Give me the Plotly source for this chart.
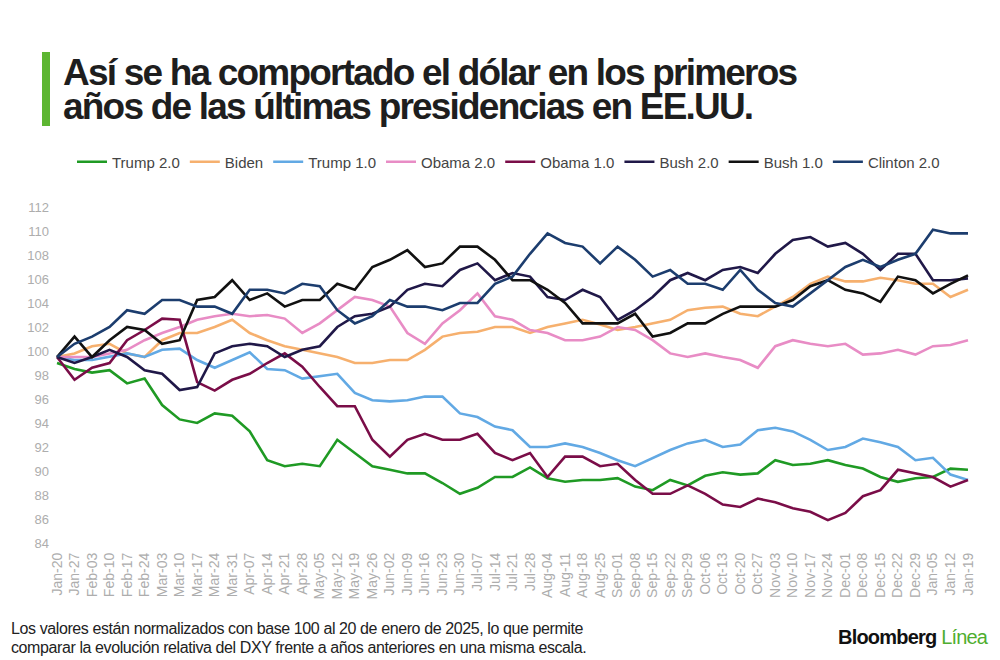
import plotly.graph_objects as go

# weekly ticks, Jan-20 -> Jan-19 of the following year
weeks = [
    "Jan-20", "Jan-27", "Feb-03", "Feb-10", "Feb-17", "Feb-24", "Mar-03", "Mar-10",
    "Mar-17", "Mar-24", "Mar-31", "Apr-07", "Apr-14", "Apr-21", "Apr-28", "May-05",
    "May-12", "May-19", "May-26", "Jun-02", "Jun-09", "Jun-16", "Jun-23", "Jun-30",
    "Jul-07", "Jul-14", "Jul-21", "Jul-28", "Aug-04", "Aug-11", "Aug-18", "Aug-25",
    "Sep-01", "Sep-08", "Sep-15", "Sep-22", "Sep-29", "Oct-06", "Oct-13", "Oct-20",
    "Oct-27", "Nov-03", "Nov-10", "Nov-17", "Nov-24", "Dec-01", "Dec-08", "Dec-15",
    "Dec-22", "Dec-29", "Jan-05", "Jan-12", "Jan-19",
]

trump2 = [99.0, 98.5, 98.2, 98.4, 97.3, 97.7, 95.5, 94.3, 94.0, 94.8, 94.6, 93.3, 90.9,
          90.4, 90.6, 90.4, 92.6, 91.5, 90.4, 90.1, 89.8, 89.8, 89.0, 88.1, 88.6, 89.5,
          89.5, 90.3, 89.4, 89.1, 89.25, 89.25, 89.4, 88.7, 88.4, 89.25, 88.8, 89.6, 89.9,
          89.7, 89.8, 90.9, 90.5, 90.6, 90.9, 90.5, 90.2, 89.5, 89.1, 89.4, 89.5, 90.2, 90.1]
biden = [99.5, 99.8, 100.4, 100.6, 99.8, 99.5, 100.9, 101.5, 101.5, 102.0, 102.6, 101.5, 100.9,
         100.4, 100.1, 99.8, 99.5, 99.0, 99.0, 99.25, 99.25, 100.1, 101.2, 101.5, 101.6, 102.0,
         102.0, 101.5, 102.0, 102.3, 102.6, 102.2, 101.75, 102.0, 102.3, 102.6, 103.4, 103.6, 103.7,
         103.1, 102.9, 103.7, 104.5, 105.6, 106.2, 105.8, 105.8, 106.1, 105.9, 105.6, 105.6, 104.5, 105.1]
trump1 = [99.5, 99.25, 99.25, 99.5, 99.8, 99.5, 100.1, 100.2, 99.25, 98.6, 99.25, 99.9, 98.5,
          98.4, 97.7, 97.9, 98.1, 96.5, 95.9, 95.8, 95.9, 96.2, 96.2, 94.8, 94.5, 93.7,
          93.4, 92.0, 92.0, 92.3, 92.0, 91.5, 90.9, 90.4, 91.1, 91.75, 92.3, 92.6, 92.0,
          92.2, 93.4, 93.6, 93.3, 92.6, 91.75, 92.0, 92.7, 92.4, 92.0, 90.9, 91.1, 89.7, 89.25]
obama2 = [99.5, 99.5, 99.5, 99.8, 100.1, 100.9, 101.5, 102.0, 102.6, 102.9, 103.1, 102.9, 103.0,
          102.7, 101.5, 102.3, 103.4, 104.5, 104.25, 103.7, 101.5, 100.6, 102.3, 103.4, 104.8, 102.9,
          102.6, 101.75, 101.5, 100.9, 100.9, 101.2, 102.0, 101.75, 100.9, 99.8, 99.5, 99.8, 99.5,
          99.25, 98.6, 100.4, 100.9, 100.6, 100.4, 100.6, 99.7, 99.8, 100.1, 99.7, 100.4, 100.5, 100.9]
obama1 = [99.5, 97.6, 98.6, 99.0, 100.9, 101.75, 102.7, 102.6, 97.4, 96.7, 97.6, 98.1, 99.0,
          99.8, 98.7, 97.0, 95.4, 95.4, 92.6, 91.2, 92.6, 93.1, 92.6, 92.6, 93.1, 91.5,
          90.9, 91.5, 89.5, 91.2, 91.2, 90.4, 90.6, 89.25, 88.1, 88.1, 88.8, 88.1, 87.2,
          87.0, 87.7, 87.4, 86.9, 86.6, 85.9, 86.5, 87.9, 88.4, 90.1, 89.8, 89.5, 88.7, 89.25]
bush2 = [99.5, 99.0, 99.5, 100.1, 99.5, 98.4, 98.1, 96.75, 97.0, 99.8, 100.4, 100.6, 100.4,
         99.5, 100.1, 100.4, 102.0, 102.9, 103.1, 103.7, 105.1, 105.6, 105.4, 106.75, 107.3, 105.9,
         106.5, 106.2, 104.5, 104.25, 105.1, 104.5, 102.6, 103.4, 104.5, 105.9, 106.5, 105.9, 106.75,
         107.0, 106.5, 108.1, 109.25, 109.5, 108.7, 109.0, 108.1, 106.75, 108.1, 108.1, 105.9, 105.9, 106.05]
bush1 = [99.5, 101.2, 99.5, 100.9, 102.0, 101.75, 100.6, 100.9, 104.25, 104.5, 105.9, 104.25, 104.8,
         103.7, 104.25, 104.25, 105.6, 105.1, 107.0, 107.6, 108.4, 107.0, 107.3, 108.7, 108.7, 107.6,
         105.9, 105.9, 105.1, 104.0, 102.3, 102.3, 102.3, 103.1, 101.2, 101.5, 102.3, 102.3, 103.1,
         103.7, 103.7, 103.7, 104.25, 105.4, 105.9, 105.1, 104.8, 104.1, 106.2, 105.9, 104.8, 105.6, 106.3]
clinton2 = [99.5, 100.6, 101.2, 102.0, 103.4, 103.1, 104.25, 104.25, 103.7, 103.7, 103.1, 105.1, 105.1,
            104.8, 105.6, 105.4, 103.4, 102.3, 102.9, 104.25, 103.7, 103.7, 103.4, 104.0, 104.0, 105.6,
            106.2, 108.1, 109.8, 109.0, 108.7, 107.3, 108.7, 107.6, 106.2, 106.75, 105.6, 105.6, 105.1,
            106.75, 105.1, 104.0, 103.7, 104.8, 105.9, 107.0, 107.6, 107.0, 107.6, 108.1, 110.1, 109.8, 109.8]

series = [
    ("Trump 2.0", trump2, "#1f9a24"),
    ("Biden", biden, "#f6b06e"),
    ("Trump 1.0", trump1, "#62a9e4"),
    ("Obama 2.0", obama2, "#e88cc5"),
    ("Obama 1.0", obama1, "#7a0d48"),
    ("Bush 2.0", bush2, "#201848"),
    ("Bush 1.0", bush1, "#111111"),
    ("Clinton 2.0", clinton2, "#1c3d6e"),
]

y_ticks = list(range(84, 113, 2))

SANS = "Liberation Sans, Arial, sans-serif"

# the page body adds an 8px margin, so the figure is drawn 8px in from the corner
OFF = 8
W, H = 1000 - OFF, 660 - OFF
L, R, T, B = 42, 25, 193, 111
PW, PH = W - L - R, H - T - B


def px(x):
    # screen x (px) -> paper coords
    return (x - OFF - L) / PW


def py(y):
    # screen y (px) -> paper coords
    return (H - B - (y - OFF)) / PH


fig = go.Figure()
for name, vals, color in series:
    fig.add_trace(go.Scatter(
        x=weeks, y=vals, name=name, mode="lines",
        line=dict(color=color, width=2.6),
    ))

fig.update_layout(
    width=W, height=H,
    margin=dict(l=L, r=R, t=T, b=B),
    paper_bgcolor="white",
    plot_bgcolor="white",
    showlegend=True,
    legend=dict(
        orientation="h", x=px(72), y=py(162), xanchor="left", yanchor="middle",
        font=dict(family=SANS, size=15, color="#444"),
        itemwidth=30,
    ),
    xaxis=dict(
        type="category", range=[-0.4, 52.4], showgrid=False, zeroline=False,
        showline=False, tickangle=-90,
        tickfont=dict(family=SANS, size=14, color="#adadad"),
    ),
    yaxis=dict(
        range=[83.5, 112.5], tickvals=y_ticks, showgrid=False, zeroline=False,
        showline=False,
        tickfont=dict(family=SANS, size=13, color="#adadad"),
    ),
    shapes=[dict(
        type="rect", xref="paper", yref="paper",
        x0=px(42), x1=px(50), y0=py(126), y1=py(52),
        fillcolor="#5db632", line=dict(width=0),
    )],
)

title_font = dict(family=SANS, size=37, color="#1e1e1e")
for txt, yy in [("Así se ha comportado el dólar en los primeros", 72),
                ("años de las últimas presidencias en EE.UU.", 106)]:
    fig.add_annotation(
        text=f"<span style='letter-spacing:-1.8px'><b>{txt}</b></span>",
        xref="paper", yref="paper", x=px(61), y=py(yy),
        xanchor="left", yanchor="middle", showarrow=False, font=title_font,
    )

note_font = dict(family=SANS, size=16, color="#222")
for txt, yy in [
    ("Los valores están normalizados con base 100 al 20 de enero de 2025, lo que permite", 628),
    ("comparar la evolución relativa del DXY frente a años anteriores en una misma escala.", 647),
]:
    fig.add_annotation(
        text=f"<span style='letter-spacing:-0.4px'>{txt}</span>",
        xref="paper", yref="paper", x=px(9), y=py(yy),
        xanchor="left", yanchor="middle", showarrow=False, font=note_font,
    )

fig.add_annotation(
    text="<span style='letter-spacing:-0.8px'><b>Bloomberg</b> <span style='color:#4fae2f'>Línea</span></span>",
    xref="paper", yref="paper", x=px(991), y=py(637),
    xanchor="right", yanchor="middle", showarrow=False,
    font=dict(family=SANS, size=20, color="#111"),
)

fig.write_html("out.html")
